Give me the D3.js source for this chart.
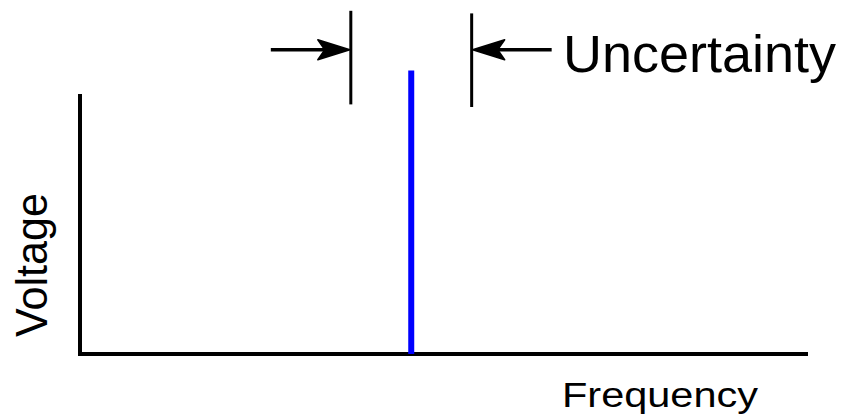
<!DOCTYPE html>
<html>
<head>
<meta charset="utf-8">
<script src="https://cdn.jsdelivr.net/npm/d3@7"></script>
<style>
  body { margin: 0; background: #fff; }
  text { font-family: "Liberation Sans", Arial, sans-serif; fill: #000; }
</style>
</head>
<body>
<div id="chart"></div>
<script>
// spectrum data
const peakFreq = [45.5];
const peakVolt = [109];
const uncertaintyBounds = [37.2, 53.8];
const axisLabels = ["Frequency", "Voltage"];
const annotation = ["Uncertainty"];

const width = 841, height = 420;
const margin = { top: 94, right: 33, bottom: 66, left: 80 };

const svg = d3.select("#chart")
  .append("svg")
    .attr("width", width)
    .attr("height", height);

const x = d3.scaleLinear()
    .domain([0, 100])
    .range([margin.left, width - margin.right]);

const y = d3.scaleLinear()
    .domain([0, 100])
    .range([height - margin.bottom, margin.top]);

// axes drawn as plain lines, no ticks
svg.append("g")
    .attr("transform", `translate(0,${y(0)})`)
    .call(d3.axisBottom(x).ticks(0).tickSizeOuter(0))
    .call(g => g.select(".domain").attr("stroke", "#000").attr("stroke-width", 4)
        .attr("d", `M${x(0) - 2},0H${x(100)}`));

svg.append("g")
    .attr("transform", `translate(${x(0)},0)`)
    .call(d3.axisLeft(y).ticks(0).tickSizeOuter(0))
    .call(g => g.select(".domain").attr("stroke", "#000").attr("stroke-width", 4)
        .attr("d", `M0,${y(0) + 2}V${y(100)}`));

// the spectral line
svg.selectAll(".peak")
  .data(peakFreq)
  .enter().append("line")
    .attr("class", "peak")
    .attr("x1", d => x(d))
    .attr("x2", d => x(d))
    .attr("y1", y(0))
    .attr("y2", (d, i) => y(peakVolt[i]))
    .attr("stroke", "#0000ff")
    .attr("stroke-width", 6);

// uncertainty bars
const barTop = [132, 131];
const barBottom = [96, 95];
const arrowY = y(117);

svg.selectAll(".ubar")
  .data(uncertaintyBounds)
  .enter().append("line")
    .attr("class", "ubar")
    .attr("x1", d => x(d))
    .attr("x2", d => x(d))
    .attr("y1", (d, i) => y(barTop[i]))
    .attr("y2", (d, i) => y(barBottom[i]))
    .attr("stroke", "#000")
    .attr("stroke-width", 3);

// arrows pointing inward: left comes from the left, right from the right
const arrowLen = 80;
svg.selectAll(".ushaft")
  .data(uncertaintyBounds)
  .enter().append("line")
    .attr("class", "ushaft")
    .attr("x1", (d, i) => x(d) + (i === 0 ? -arrowLen : arrowLen))
    .attr("x2", (d, i) => x(d) + (i === 0 ? -20 : 20))
    .attr("y1", arrowY)
    .attr("y2", arrowY)
    .attr("stroke", "#000")
    .attr("stroke-width", 3.5);

svg.selectAll(".uhead")
  .data(uncertaintyBounds)
  .enter().append("path")
    .attr("class", "uhead")
    .attr("transform", (d, i) => `translate(${x(d) + (i === 0 ? -1 : 1)},${arrowY}) scale(${i === 0 ? 1 : -1},1)`)
    .attr("d", "M0,0L-32,-10L-25,0L-32,10Z")
    .attr("fill", "#000")
    .attr("stroke", "#000")
    .attr("stroke-width", 1.5)
    .attr("stroke-linejoin", "round");

// texts
svg.append("text")
    .attr("x", 563)
    .attr("y", 72)
    .attr("font-size", 51)
    .attr("textLength", 273)
    .attr("lengthAdjust", "spacingAndGlyphs")
    .text(annotation[0]);

svg.append("text")
    .attr("x", 562)
    .attr("y", 407)
    .attr("font-size", 35)
    .attr("textLength", 196)
    .attr("lengthAdjust", "spacingAndGlyphs")
    .text(axisLabels[0]);

svg.append("text")
    .attr("transform", "translate(47,337) rotate(-90)")
    .attr("font-size", 44)
    .attr("textLength", 144)
    .attr("lengthAdjust", "spacingAndGlyphs")
    .text(axisLabels[1]);
</script>
</body>
</html>
